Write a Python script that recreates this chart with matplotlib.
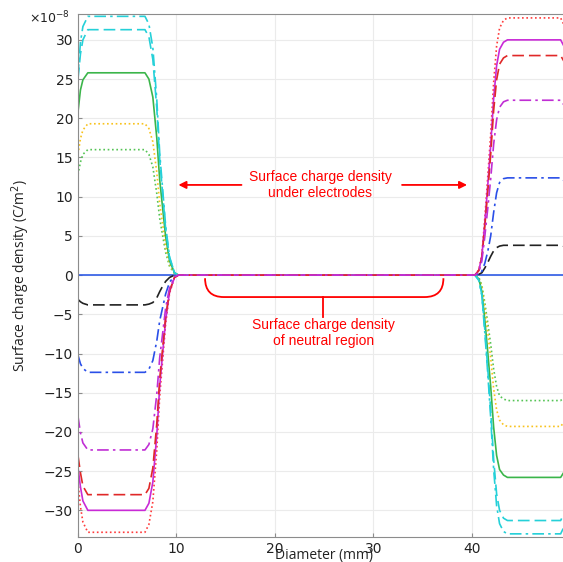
import matplotlib
matplotlib.use('Agg')
from matplotlib import pyplot as plt
from matplotlib.path import Path
from matplotlib.patches import PathPatch

# positions along the diameter (mm), shared by every curve
x_mm = [0, 0.25, 0.5, 1.0, 6.8, 7.2, 7.6, 8.0, 8.3, 8.6, 8.9, 9.3, 9.8, 10.2,
        40.3, 40.7, 41.0, 41.3, 41.6, 41.9, 42.2, 42.5, 42.8, 43.2, 43.6, 49.0, 49.5, 50.0]

# surface charge density, in units of 1e-8 C/m^2
cyan_dashdot = [25.4, 29.7, 31.7, 33.0, 33.0, 32.0, 29.0, 22.4, 15.5, 10.9, 6.3, 2.3, 0.3, 0,
                0, -0.7, -2.6, -7.3, -12.5, -18.2, -24.8, -29.4, -31.7, -32.7, -33.0, -33.0, -31.7, -26.4]
cyan_dashed = [25.0, 28.2, 30.0, 31.3, 31.3, 30.4, 27.5, 21.3, 14.7, 10.3, 5.9, 2.2, 0.3, 0,
               0, -0.6, -2.5, -6.9, -11.9, -17.2, -23.5, -27.9, -30.0, -31.0, -31.3, -31.3, -30.0, -25.0]
green_solid = [20.8, 23.6, 24.9, 25.8, 25.8, 25.0, 22.7, 17.5, 12.1, 8.5, 4.9, 1.8, 0.3, 0,
               0, -0.5, -2.1, -5.7, -9.8, -14.2, -19.4, -23.0, -24.8, -25.5, -25.8, -25.8, -24.8, -20.6]
yellow_dotted = [15.4, 17.4, 18.5, 19.3, 19.3, 18.7, 17.0, 13.1, 9.1, 6.4, 3.7, 1.4, 0.2, 0,
                 0, -0.4, -1.5, -4.2, -7.3, -10.6, -14.5, -17.2, -18.5, -19.1, -19.3, -19.3, -18.5, -15.4]
green_dotted = [12.8, 14.4, 15.4, 16.0, 16.0, 15.4, 13.8, 10.4, 7.2, 5.0, 2.9, 1.1, 0.2, 0,
                0, -0.3, -1.3, -3.5, -6.1, -8.8, -12.0, -14.2, -15.4, -15.8, -16.0, -16.0, -15.4, -12.8]
black_dashed = [-3.1, -3.4, -3.6, -3.8, -3.8, -3.7, -3.5, -2.9, -2.1, -1.4, -0.8, -0.3, 0.0, 0,
                0, 0.1, 0.3, 0.9, 1.6, 2.4, 3.1, 3.5, 3.7, 3.8, 3.8, 3.8, 3.6, 3.0]
blue_dashdot = [-10.2, -11.3, -11.9, -12.4, -12.4, -12.0, -10.9, -8.4, -5.8, -4.1, -2.4, -0.9, -0.1, 0,
                0, 0.1, 0.5, 1.5, 3.0, 5.0, 8.0, 10.5, 11.8, 12.3, 12.4, 12.4, 11.9, 9.9]
magenta_dashdot = [-18.0, -20.1, -21.4, -22.3, -22.3, -21.6, -19.6, -15.2, -10.5, -7.4, -4.2, -1.6, -0.2, 0,
                   0, 0.4, 1.8, 4.9, 8.5, 12.3, 16.7, 19.8, 21.4, 22.1, 22.3, 22.3, 21.4, 17.8]
red_dashed = [-23.0, -25.2, -26.9, -28.0, -28.0, -27.2, -24.6, -19.0, -13.2, -9.2, -5.3, -2.0, -0.3, 0,
              0, 0.6, 2.2, 6.2, 10.6, 15.4, 21.0, 24.9, 26.9, 27.7, 28.0, 28.0, 26.9, 22.4]
magenta_solid = [-24.5, -27.0, -28.8, -30.0, -30.0, -29.1, -26.4, -20.4, -14.1, -9.9, -5.7, -2.1, -0.3, 0,
                 0, 0.6, 2.4, 6.6, 11.4, 16.5, 22.5, 26.7, 28.8, 29.7, 30.0, 30.0, 28.8, 24.0]
red_dotted = [-26.4, -29.5, -31.5, -32.8, -32.8, -31.8, -28.9, -22.3, -15.4, -10.8, -6.2, -2.3, -0.3, 0,
              0, 0.7, 2.6, 7.2, 12.5, 18.0, 24.6, 29.2, 31.5, 32.5, 32.8, 32.8, 31.5, 26.2]
blue_solid = [0] * len(x_mm)

x_ticks = [0, 10, 20, 30, 40]
y_ticks = [-30, -25, -20, -15, -10, -5, 0, 5, 10, 15, 20, 25, 30]

DOT = (0, (1, 1.6))
DASH = (0, (7, 3))
DASHDOT = (0, (7, 2.5, 1.5, 2.5))

curves = [
    (blue_solid, '#2f5be6', '-'),
    (black_dashed, '#222222', DASH),
    (blue_dashdot, '#2a4fe8', DASHDOT),
    (green_dotted, '#55c455', DOT),
    (yellow_dotted, '#f8c21c', DOT),
    (green_solid, '#3bb54a', '-'),
    (cyan_dashed, '#25d0d8', DASH),
    (cyan_dashdot, '#25d0d8', DASHDOT),
    (red_dotted, '#ff3b3b', DOT),
    (magenta_solid, '#c92ad6', '-'),
    (red_dashed, '#e02828', DASH),
    (magenta_dashdot, '#c02ed4', DASHDOT),
]

RED = '#ff0000'
LABEL_FONT = 'Open Sans'
NOTE_FONT = 'Liberation Sans'

fig = plt.figure(figsize=(5.63, 5.62), dpi=100)
ax = fig.add_axes([0.1385, 0.0445, 0.8748, 0.9306])

for values, color, ls in curves:
    ax.plot(x_mm, values, color=color, linestyle=ls, lw=1.2)

ax.set_xlim(0, 50)
ax.set_ylim(-33.4, 33.3)
ax.set_xticks(x_ticks)
ax.set_yticks(y_ticks)
ax.grid(True, color='#ebebeb', lw=0.8)
ax.set_axisbelow(True)
for side in ['left', 'top', 'bottom', 'right']:
    ax.spines[side].set_color('#8c8c8c')
ax.tick_params(direction='in', length=3, color='#8c8c8c', labelsize=10, labelcolor='#222222')

ax.set_xlabel('Diameter (mm)', fontsize=10, color='#222222', family=LABEL_FONT)
ax.xaxis.set_label_coords(0.5, -0.021)
ax.set_ylabel('Surface charge density (C/m$^2$)', fontsize=10, color='#222222', family=LABEL_FONT)
ax.yaxis.set_label_coords(-0.094, 0.5)
fig.text(0.052, 0.968, r'$\times10^{-8}$', fontsize=9, color='#222222', va='center', ha='left')

# arrows pointing at the electrode regions
ax.text(24.6, 11.5, 'Surface charge density\nunder electrodes', color=RED, family=NOTE_FONT,
        fontsize=10, ha='center', va='center', linespacing=1.2)
arrow = dict(arrowstyle='-|>', color=RED, lw=1.3, mutation_scale=11, shrinkA=0, shrinkB=0)
ax.annotate('', xy=(10.2, 11.5), xytext=(16.6, 11.5), arrowprops=arrow)
ax.annotate('', xy=(39.5, 11.5), xytext=(32.9, 11.5), arrowprops=arrow)

# bracket over the neutral region
brace = Path([(12.9, -0.4), (12.9, -2.8), (14.8, -2.8), (35.2, -2.8), (37.1, -2.8), (37.1, -0.4)],
             [Path.MOVETO, Path.CURVE3, Path.CURVE3, Path.LINETO, Path.CURVE3, Path.CURVE3])
ax.add_patch(PathPatch(brace, fill=False, edgecolor=RED, lw=1.3))
ax.plot([24.9, 24.9], [-2.8, -5.4], color=RED, lw=1.3)
ax.text(24.9, -7.4, 'Surface charge density\nof neutral region', color=RED, family=NOTE_FONT,
        fontsize=10, ha='center', va='center', linespacing=1.2)

fig.savefig('out.png', dpi=100)
